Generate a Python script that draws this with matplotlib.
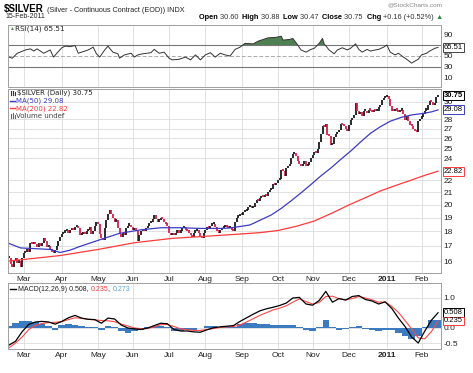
import numpy as np
import pandas as pd
import matplotlib
matplotlib.use("Agg")
import matplotlib.pyplot as plt
from matplotlib.lines import Line2D
from matplotlib.ticker import NullLocator
from matplotlib.transforms import blended_transform_factory

plt.rcParams["font.family"] = ["Liberation Sans", "DejaVu Sans"]

dates = pd.bdate_range("2010-02-16", "2011-02-15")

# daily closes, one row per week
closes = [
    16.2, 15.8, 15.6, 16.0,
    16.2, 15.9, 16.0, 15.6, 16.2,
    16.5, 16.6, 16.8, 16.6, 17.2,
    17.1, 17.2, 17.1, 16.9, 17.2,
    17.0, 17.2, 17.5, 17.3, 16.9,
    17.0, 16.8, 16.6, 16.5, 16.7,
    17.0, 17.3, 17.6, 17.8, 17.9,
    18.0, 18.1, 17.9, 18.1, 18.2,
    18.1, 18.3, 18.4, 18.2, 17.7,
    17.8, 17.9, 17.8, 18.0, 18.1,
    18.3, 17.8, 18.0, 18.4, 18.7,
    18.5, 17.8, 17.5, 17.4, 18.2,
    18.8, 19.3, 19.6, 19.3, 19.0,
    18.7, 18.8, 18.2, 17.8, 17.6,
    17.9, 17.7, 18.2, 18.4, 18.4,
    18.3, 18.1, 18.2, 18.0, 17.3,
    17.7, 18.0, 18.1, 18.0, 18.2,
    18.4, 18.6, 18.7, 18.9, 19.2,
    18.9, 18.7, 18.8, 19.0, 18.9,
    18.7, 18.5, 18.4, 17.9, 17.7,
    17.8, 17.7, 17.9, 18.0, 17.9,
    18.0, 18.2, 18.3, 18.1, 18.0,
    17.9, 17.7, 17.6, 17.9, 18.0,
    18.0, 17.9, 17.6, 17.5, 17.9,
    18.1, 18.3, 18.2, 18.4, 18.5,
    18.5, 18.3, 18.0, 17.9, 18.1,
    18.2, 18.3, 18.4, 18.3, 18.2,
    18.3, 18.1, 18.0, 18.7, 19.0,
    19.1, 19.3, 19.2, 19.4, 19.5,
    19.6, 19.8, 19.9, 19.7, 19.8,
    20.1, 20.4, 20.3, 20.5, 20.7,
    20.6, 20.8, 20.7, 21.0, 21.2,
    21.3, 21.7, 21.6, 21.8, 22.0,
    22.1, 22.9, 22.8, 22.4, 23.1,
    23.3, 23.5, 24.0, 24.4, 24.5,
    24.2, 23.8, 23.5, 23.3, 23.5,
    23.8, 23.3, 23.4, 23.7, 24.0,
    24.3, 24.6, 24.5, 24.9, 25.6,
    26.4, 27.3, 27.2, 27.5, 26.3,
    26.2, 25.3, 25.4, 26.1, 26.4,
    26.6, 26.9, 27.5, 27.4, 27.3,
    27.0, 26.7, 27.4, 27.9, 28.2,
    28.5, 29.9, 29.0, 28.6, 28.8,
    28.4, 28.9, 29.0, 28.7, 29.1,
    29.0, 28.8, 29.1, 28.9, 29.0,
    29.4, 29.7, 30.2, 30.5, 30.6,
    30.7, 30.3, 29.5, 29.0, 28.9,
    29.2, 29.0, 28.8, 29.0, 29.1,
    28.6, 27.9, 28.4, 27.8, 27.4,
    27.3, 27.0, 26.7, 26.6, 27.8,
    28.1, 28.3, 28.6, 29.0, 29.1,
    29.7, 30.1, 30.0, 29.6, 29.9,
    30.6, 30.75,
]

ma50_days = [0, 7, 16, 25, 31, 37, 43, 55, 67, 80, 92, 104, 116, 128, 134, 146, 159, 165,
             171, 177, 183, 189, 195, 201, 207, 213, 219, 225, 231, 238, 244, 250, 256, 260]
ma50 = [17.15, 16.85, 16.8, 16.75, 16.55, 16.7, 16.95, 17.4, 17.85, 18.1, 18.25, 18.25,
        18.2, 18.2, 18.23, 18.45, 19.2, 19.7, 20.3, 20.95, 21.65, 22.4, 23.1, 23.9, 24.7,
        25.6, 26.5, 27.2, 27.8, 28.25, 28.5, 28.65, 28.85, 29.08]

ma200_days = [0, 9, 31, 54, 76, 99, 120, 140, 152, 163, 174, 185, 196, 206, 216, 225,
              235, 244, 252, 260]
ma200 = [16.0, 16.1, 16.35, 16.75, 17.2, 17.5, 17.65, 17.8, 17.9, 18.05, 18.35, 18.74,
         19.35, 19.97, 20.55, 21.1, 21.6, 22.04, 22.45, 22.82]

rsi_days = [0, 2, 5, 10, 13, 15, 17, 21, 25, 27, 29, 32, 34, 37, 40, 42, 44, 48, 51, 53,
            55, 58, 60, 61, 63, 66, 67, 70, 74, 76, 78, 81, 86, 88, 91, 94, 97, 99, 103, 107,
            110, 113, 116, 119, 122, 125, 128, 131, 134, 137, 140, 143, 148, 151, 154, 157,
            162, 165, 166, 170, 172, 174, 177, 180, 183, 185, 188, 190, 191, 194, 197, 199,
            202, 205, 207, 210, 212, 214, 217, 219, 222, 224, 227, 229, 231, 234, 236, 239,
            241, 244, 245, 248, 250, 253, 255, 258, 260]
rsi = [48, 46, 55, 61, 63, 59, 63, 55, 61, 48, 55, 65, 68, 67, 69, 55, 57, 61, 66, 54,
       48, 61, 68, 64, 57, 54, 46, 52, 55, 48, 52, 54, 56, 62, 55, 57, 46, 43, 44, 48,
       43, 52, 43, 52, 56, 48, 55, 52, 50, 62, 66, 73, 72, 77, 80, 83, 84, 86, 79, 80,
       82, 74, 61, 57, 62, 64, 73, 82, 72, 61, 54, 61, 65, 61, 64, 72, 62, 57, 62, 59,
       61, 62, 66, 70, 57, 52, 55, 48, 44, 37, 39, 44, 52, 55, 59, 64, 65.51]

macd_days = list(range(0, 261, 4))
macd_line = [-0.57, -0.44, -0.12, 0.12, 0.2, 0.22, 0.2, 0.13, 0.22, 0.34,
             0.42, 0.33, 0.29, 0.28, 0.16, 0.33, 0.3, 0.1, 0.0, -0.03,
             -0.05, 0.0, 0.08, 0.16, 0.14, -0.05, -0.1, -0.1, -0.13, -0.14,
             -0.06, 0.01, 0.04, 0.06, 0.08, 0.22, 0.34, 0.46, 0.57, 0.64,
             0.69, 0.75, 0.83, 1.0, 1.02, 0.8, 0.76, 0.92, 1.22, 0.86,
             0.98, 0.93, 1.05, 1.08, 0.95, 0.9, 0.8, 0.87, 0.65, 0.33,
             0.05, -0.3, -0.5, -0.1, 0.26, 0.508]
signal_line = [-0.66, -0.5, -0.3, -0.05, 0.09, 0.15, 0.18, 0.19, 0.21, 0.28,
               0.34, 0.32, 0.29, 0.27, 0.25, 0.24, 0.21, 0.13, 0.07, 0.0,
               -0.02, -0.02, 0.04, 0.11, 0.12, 0.05, -0.03, -0.06, -0.08, -0.08,
               -0.05, -0.02, 0.02, 0.04, 0.05, 0.1, 0.2, 0.31, 0.42, 0.51,
               0.6, 0.66, 0.74, 0.86, 0.97, 0.88, 0.8, 0.85, 1.05, 1.06,
               0.98, 0.94, 0.98, 1.05, 1.0, 0.94, 0.86, 0.87, 0.72, 0.52,
               0.25, -0.03, -0.33, -0.36, -0.12, 0.235]
macd_hist = [0.07, 0.16, 0.22, 0.23, 0.2, 0.15, 0.06, -0.06, 0.1, 0.13,
             0.1, 0.06, 0.03, 0.02, -0.07, 0.06, 0.05, -0.1, -0.17, -0.09,
             -0.05, 0.03, 0.08, 0.07, 0.03, -0.1, -0.11, -0.07, -0.05, 0.0,
             0.06, 0.06, 0.04, 0.02, 0.05, 0.14, 0.16, 0.16, 0.15, 0.12,
             0.11, 0.1, 0.1, 0.09, 0.05, -0.06, -0.09, 0.04, 0.26, 0.02,
             -0.07, -0.03, 0.05, 0.08, -0.02, -0.07, -0.09, -0.06, -0.07, -0.15,
             -0.27, -0.35, -0.25, 0.05, 0.27, 0.273]

price_ticks = [16, 17, 18, 19, 20, 21, 22, 24, 25, 26, 27, 28, 30]
rsi_ticks = [10, 30, 50, 90]
macd_ticks = [-0.5, 0.0, 1.0]

W, H = 473, 373
fig = plt.figure(figsize=(W / 100, H / 100), dpi=100)


def panel(top, bottom, left=8, right=441):
    return [left / W, 1 - bottom / H, (right - left) / W, (bottom - top) / H]


ax_r = fig.add_axes(panel(25, 87))
ax_p = fig.add_axes(panel(89, 273), sharex=ax_r)
ax_m = fig.add_axes(panel(283, 349), sharex=ax_r)

month_idx = [i for i in range(1, len(dates)) if dates[i].month != dates[i - 1].month]
month_lbl = ["2011" if dates[i].month == 1 else dates[i].strftime("%b") for i in month_idx]

for ax in (ax_r, ax_p, ax_m):
    for s in ax.spines.values():
        s.set_color("#a0a0a0")
        s.set_linewidth(0.7)
    ax.yaxis.tick_right()
    ax.tick_params(axis="both", length=0, labelsize=6, colors="#222222", pad=2)
    ax.set_xticks(month_idx)
    ax.grid(True, color="#dcdcdc", linewidth=0.6)
    ax.set_axisbelow(True)
ax_r.set_xlim(-0.6, 261.8)


def month_labels(ax):
    ax.tick_params(axis="x", labelbottom=True, pad=2)
    ax.set_xticklabels(month_lbl)
    for t in ax.get_xticklabels():
        if t.get_text() == "2011":
            t.set_fontweight("bold")


ax_r.tick_params(axis="x", labelbottom=False)
month_labels(ax_p)
month_labels(ax_m)

# RSI panel
ax_r.set_ylim(-6.4, 106.4)
ax_r.set_yticks(rsi_ticks)
ax_r.grid(False, axis="y")
ax_r.axhline(70, color="#777777", lw=0.8)
ax_r.axhline(30, color="#777777", lw=0.8)
ax_r.axhline(50, color="#aaaaaa", lw=0.7, ls=(0, (4, 2)))
rv = np.array(rsi)
ax_r.fill_between(rsi_days, rv, 70, where=rv >= 70, interpolate=True, color="#4e8052", lw=0)
ax_r.plot(rsi_days, rv, color="#333333", lw=0.7)

# price panel
c = np.array(closes)
o = np.r_[c[0], c[:-1]]
x = np.arange(len(c))
lo = np.minimum(o, c)
hi = np.maximum(np.maximum(o, c), lo * 1.009)
col = np.where(c < o, "#d5173f", "#111111")
ax_p.set_yscale("log")
ax_p.vlines(x, lo, hi, colors=col, linewidth=1.25)
ax_p.plot(ma50_days, ma50, color="#3c3cc4", lw=0.9)
ax_p.plot(ma200_days, ma200, color="#ff3a3a", lw=0.9)
ax_p.set_ylim(15.26, 31.58)
ax_p.yaxis.set_minor_locator(NullLocator())
ax_p.set_yticks(price_ticks)
ax_p.set_yticklabels([str(t) for t in price_ticks])

# MACD panel
ax_m.set_ylim(-0.7, 1.5)
ax_m.set_yticks(macd_ticks)
ax_m.set_yticklabels(["-0.5", "0.0", "1.0"])
ax_m.bar(macd_days, macd_hist, width=4, color="#3c7bbf", lw=0)
ax_m.plot(macd_days, signal_line, color="#ff4646", lw=0.8)
ax_m.plot(macd_days, macd_line, color="black", lw=0.9)


def tag(ax, val, s, ec, bold=False):
    tr = blended_transform_factory(ax.transAxes, ax.transData)
    ax.text(1.0 + 3 / 433, val, s, transform=tr, ha="left", va="center", fontsize=5.5,
            fontweight="bold" if bold else "normal", clip_on=False, zorder=5,
            bbox=dict(boxstyle="square,pad=0.12", fc="white", ec=ec, lw=0.7))


tag(ax_r, rsi[-1], "65.51", "#444444")
tag(ax_p, closes[-1], "30.75", "black", bold=True)
tag(ax_p, ma50[-1], "29.08", "#3c3cc4")
tag(ax_p, ma200[-1], "22.82", "#ff3a3a")
tag(ax_m, macd_line[-1], "0.508", "black")
tag(ax_m, signal_line[-1], "0.235", "#ff3a3a")

# header and legends
renderer = fig.canvas.get_renderer()


def chain(xp, yp, parts, size):
    for s, color, weight in parts:
        t = fig.text(xp / W, 1 - yp / H, s, fontsize=size, color=color,
                     fontweight=weight, va="center", ha="left")
        xp += t.get_window_extent(renderer).width


chain(4, 9, [("$SILVER", "black", "bold")], 7)
fig.text(47 / W, 1 - 10 / H, "(Silver - Continuous Contract (EOD)) INDX", fontsize=5.2,
         va="center", color="#222222")
fig.text(442 / W, 1 - 4.5 / H, "@StockCharts.com", fontsize=4.6, va="center", ha="right",
         color="#888888")
fig.text(5 / W, 1 - 17 / H, "15-Feb-2011", fontsize=5.0, va="center", color="#222222")
chain(199, 17.5, [("Open ", "black", "bold"), ("30.60  ", "#333333", "normal"),
                  ("High ", "black", "bold"), ("30.88  ", "#333333", "normal"),
                  ("Low ", "black", "bold"), ("30.47  ", "#333333", "normal"),
                  ("Close ", "black", "bold"), ("30.75  ", "#333333", "normal"),
                  ("Chg ", "black", "bold"), ("+0.16 (+0.52%) ", "#333333", "normal"),
                  ("▲", "#2e8b3a", "normal")], 5.3)

fig.text(15 / W, 1 - 28.7 / H, "RSI(14) 65.51", fontsize=5.2, va="center",
         family="DejaVu Sans", color="#222222")
fig.text(9 / W, 1 - 28.7 / H, "▲", fontsize=3.5, va="center", color="#4e8052")

fig.text(17 / W, 1 - 93 / H, "$SILVER (Daily) 30.75", fontsize=5.0, va="center",
         family="DejaVu Sans", color="#222222")
fig.text(16 / W, 1 - 100.7 / H, "MA(50) 29.08", fontsize=5.0, va="center",
         family="DejaVu Sans", color="#3c3cc4")
fig.text(16 / W, 1 - 108.3 / H, "MA(200) 22.82", fontsize=5.0, va="center",
         family="DejaVu Sans", color="#ff3a3a")
fig.text(16 / W, 1 - 115.7 / H, "Volume undef", fontsize=5.0, va="center",
         family="DejaVu Sans", color="#444444")
for yp, cl in ((100.7, "#3c3cc4"), (108.3, "#ff3a3a")):
    fig.add_artist(Line2D([10 / W, 15 / W], [1 - yp / H, 1 - yp / H], color=cl, lw=1.0))
for xp, y0, y1 in ((11, 91, 95), (13, 90.5, 94.5), (15, 91.5, 95)):
    fig.add_artist(Line2D([xp / W, xp / W], [1 - y1 / H, 1 - y0 / H], color="#333333", lw=0.8))
for xp, y0, y1 in ((11, 114, 117.5), (13, 113, 117.5), (15, 114.5, 117.5)):
    fig.add_artist(Line2D([xp / W, xp / W], [1 - y1 / H, 1 - y0 / H], color="#666666", lw=0.8))

fig.add_artist(Line2D([10 / W, 16 / W], [1 - 289.3 / H, 1 - 289.3 / H], color="black", lw=1.0))
chain(18, 289.3, [("MACD(12,26,9) 0.508, ", "#222222", "normal"),
                  ("0.235", "#ff3a3a", "normal"), (", ", "#222222", "normal"),
                  ("0.273", "#5aa0d8", "normal")], 5.0)

fig.savefig("out.png", dpi=100)
